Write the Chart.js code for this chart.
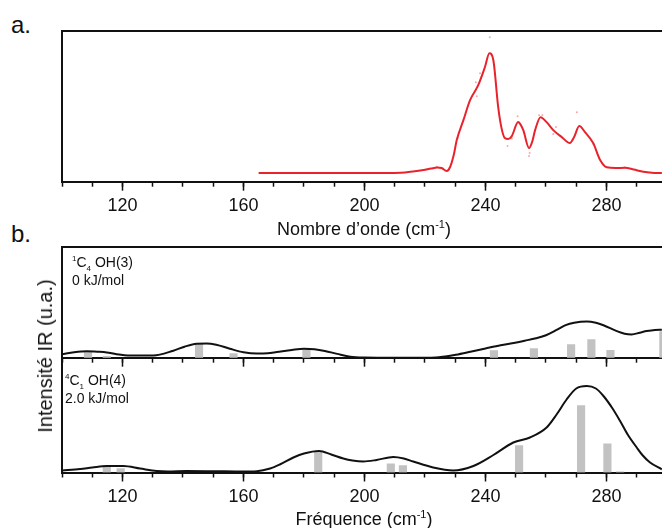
<!DOCTYPE html>
<html>
<head>
<meta charset="utf-8">
<script src="https://cdn.jsdelivr.net/npm/chart.js@4.4.1/dist/chart.umd.min.js"></script>
<style>
  body { margin: 0; background: #fff; overflow: hidden; }
  #wrap { position: relative; width: 662px; height: 528px; font-family: "Liberation Sans", Arial, sans-serif; color: #111; }
  canvas { position: absolute; left: 0; }
  .lbl { position: absolute; white-space: nowrap; line-height: 1; }
  .note { position: absolute; white-space: nowrap; font-size: 14px; line-height: 18px; }
  .note sup, .note sub { font-size: 8px; line-height: 0; }
</style>
</head>
<body>
<div id="wrap">
  <div class="lbl" style="left:11px;top:13px;font-size:24px">a.</div>
  <div class="lbl" style="left:11px;top:222px;font-size:24px">b.</div>

  <canvas id="chartA" width="662" height="250" style="top:0"></canvas>
  <canvas id="chartC" width="662" height="190" style="top:350px"></canvas>
  <canvas id="chartB" width="662" height="130" style="top:238px"></canvas>

  <div class="lbl" style="left:364px;top:219px;font-size:18px;transform:translateX(-50%)">Nombre d’onde (cm<sup style="font-size:11px">-1</sup>)</div>
  <div class="lbl" style="left:364px;top:509px;font-size:18px;transform:translateX(-50%)">Fréquence (cm<sup style="font-size:11px">-1</sup>)</div>
  <div class="lbl" style="left:45px;top:356px;font-size:20px;transform:translate(-50%,-50%) rotate(-90deg)">Intensité IR (u.a.)</div>

  <div class="note" style="left:72px;top:253px"><sup>1</sup>C<sub>4</sub> OH(3)<br>0 kJ/mol</div>
  <div class="note" style="left:65px;top:371px"><sup>4</sup>C<sub>1</sub> OH(4)<br>2.0 kJ/mol</div>
</div>

<script>
// x axis (cm-1)
const xMin = 100;
const xMax = 298.35;
const minorTicks = [100, 110, 120, 130, 140, 150, 160, 170, 180, 190, 200, 210, 220, 230, 240, 250, 260, 270, 280, 290];
const majorTicks = [120, 160, 200, 240, 280];

// a. experimental spectrum
const expX = [165, 180, 200, 212, 216, 219.5, 222, 224, 225.5, 227.2, 228.3, 229.5, 230.5, 232.7, 234.9, 237.6, 239.8, 241.3, 242.6, 244.2, 245.3, 246.4, 247.5, 248.7, 250.8, 251.5, 252.5, 254.4, 255.5, 256.4, 258.2, 260.2, 262.4, 265.2, 267.9, 269.3, 271, 272.9, 275.6, 277.9, 280.1, 283, 286.1, 289, 292.2, 295, 298.3];
const expY = [0, 0, 0, 0.3, 1.5, 3, 4.5, 5.5, 5, 2, 6, 18, 33, 53, 73, 88, 106, 120, 113, 66, 45, 35, 34, 37, 51, 49, 43, 25, 32, 43, 56, 51, 43, 36, 30, 36, 47, 41, 30, 13, 5.7, 5, 5.3, 3.5, 1.3, 0.3, 0];
const rawX = [220.5, 223.9, 230.8, 236.8, 237.1, 238.2, 241.4, 247.3, 248.7, 250.6, 254.4, 254.6, 257.7, 258.8, 262.4, 263.3, 270.2, 275.6, 286];
const rawY = [3.7, 6.3, 35, 91, 77, 100, 136, 27, 34.7, 57, 17, 20, 58, 58, 39, 46, 61, 29, 5.7];

// b. upper: 1C4 OH(3)
const upX = [100, 104, 108.2, 112, 114.8, 118, 122.5, 130.2, 136.8, 140.5, 144.5, 147.8, 151, 155.5, 160, 164.4, 168, 171, 176, 180, 183.5, 186.9, 191, 195.3, 200, 210, 222, 226, 230.2, 235, 240, 245, 249.8, 253, 256.7, 260, 263.7, 266.5, 269.3, 273.5, 276.5, 279, 283.4, 286, 288.3, 291, 293.3, 296, 298.3];
const upY = [3.5, 5.5, 6.5, 6, 5.3, 3.5, 2.2, 2.2, 7, 11, 14, 14.3, 13, 9, 5.5, 4.2, 4.5, 5.7, 7.8, 9, 8.5, 6.8, 3.8, 1, 0.2, 0, 0, 1, 3, 6, 9.3, 12.5, 15, 17, 19.5, 22.5, 28, 32.5, 35, 36.3, 35, 32.5, 26.6, 24, 23.3, 25, 26.6, 27.8, 28];
const upBarX = [108.6, 114.8, 145.3, 156.7, 180.8, 242.8, 256, 268.3, 275, 281.3, 298.8];
const upBarY = [5.7, 1.3, 13.3, 4, 9, 7, 9, 13, 18, 7.3, 26];

// b. lower: 4C1 OH(4)
const loX = [100, 106, 110, 114.8, 120.3, 125.8, 131.3, 135, 141.2, 150, 160, 164.4, 168.8, 172, 176.5, 180, 185, 189, 193, 196, 199.6, 204, 209.5, 213, 216.1, 222.7, 229.3, 236, 242.6, 249.2, 254.7, 260.2, 263.5, 266.8, 270, 273.5, 276.5, 279, 282, 284.5, 287, 290, 292, 294.4, 298.3];
const loY = [2, 3.5, 5, 6.5, 6.5, 4, 1.5, 1, 1.5, 1.3, 1, 1.3, 4, 8, 15, 19, 21.5, 18, 14, 12, 11, 12.5, 15.5, 14, 11, 5, 2, 6.5, 17.5, 30, 35, 45, 58, 73, 84, 86.5, 84, 76.5, 64, 51.5, 38, 25, 17, 10, 3.2];
const loBarX = [114.8, 119.4, 184.7, 208.7, 212.7, 251.1, 271.6, 280.3, 284.5];
const loBarY = [7, 4, 20, 8.7, 7, 27, 67, 28.7, 0.6];

const ink = "#111";
const pts = (xs, ys) => xs.map((x, i) => ({ x: x, y: ys[i] }));

// keep the plot box exactly where the layout padding puts it
const noPad = (s) => { s.paddingLeft = 0; s.paddingRight = 0; s.paddingTop = 0; s.paddingBottom = 0; };

function makeScales(yMin, yMax, axisH, showLabels, topBorder) {
  const scales = {
    x: {
      type: "linear", position: "bottom", min: xMin, max: xMax, offset: false, weight: 0,
      afterBuildTicks: (s) => { s.ticks = minorTicks.map((v) => ({ value: v })); },
      afterFit: (s) => { s.height = 0; noPad(s); },
      ticks: { display: false },
      grid: { display: true, drawOnChartArea: false, drawTicks: true, tickLength: 5, tickWidth: 1.5, tickColor: ink, offset: false },
      border: { display: true, width: 2, color: ink }
    },
    xMajor: {
      type: "linear", position: "bottom", min: xMin, max: xMax, offset: false, weight: 1,
      afterBuildTicks: (s) => { s.ticks = majorTicks.map((v) => ({ value: v })); },
      afterFit: (s) => { s.height = axisH; noPad(s); },
      ticks: { display: showLabels, padding: 5, color: ink, maxRotation: 0, autoSkip: false,
               font: { family: '"Liberation Sans", Arial, sans-serif', size: 18 } },
      grid: { display: true, drawOnChartArea: false, drawTicks: true, tickLength: 9, tickWidth: 1.5, tickColor: ink, offset: false },
      border: { display: false }
    },
    y: {
      min: yMin, max: yMax,
      afterFit: (s) => { s.width = 0; noPad(s); },
      ticks: { display: false },
      grid: { display: false },
      border: { display: true, width: 2, color: ink }
    }
  };
  if (topBorder) {
    scales.xTop = {
      type: "linear", position: "top", min: xMin, max: xMax,
      afterFit: (s) => { s.height = 0; noPad(s); },
      ticks: { display: false },
      grid: { display: false },
      border: { display: true, width: 2, color: ink }
    };
  }
  return scales;
}

const baseOpts = (pad, scales) => ({
  responsive: false,
  animation: false,
  devicePixelRatio: 1,
  layout: { padding: pad, autoPadding: false },
  plugins: { legend: { display: false }, tooltip: { enabled: false } },
  elements: { point: { radius: 0, hoverRadius: 0 } },
  scales: scales
});

const curve = (xs, ys, color) => ({
  data: pts(xs, ys), xAxisID: "x", yAxisID: "y", borderColor: color, borderWidth: 2,
  cubicInterpolationMode: "monotone", pointRadius: 0, order: 0
});

// a.
new Chart(document.getElementById("chartA"), {
  type: "line",
  data: {
    datasets: [
      curve(expX, expY, "#e8232b"),
      { data: pts(rawX, rawY), xAxisID: "x", yAxisID: "y", showLine: false, pointRadius: 1, pointBorderWidth: 0, pointBackgroundColor: "rgba(240,110,110,0.6)", order: 1 }
    ]
  },
  options: baseOpts({ left: 62, right: 0, top: 31, bottom: 0 }, makeScales(-8.7, 142.3, 250 - 181.7, true, true))
});

// b. upper
new Chart(document.getElementById("chartB"), {
  type: "line",
  data: {
    datasets: [
      curve(upX, upY, ink),
      { type: "bar", data: pts(upBarX, upBarY), xAxisID: "x", yAxisID: "y", backgroundColor: "#c2c2c2", barThickness: 7.5, order: 1 }
    ]
  },
  options: baseOpts({ left: 62, right: 0, top: 9, bottom: 130 - 119.7 }, makeScales(0, 110.7, 0, false, true))
});

// b. lower
new Chart(document.getElementById("chartC"), {
  type: "line",
  data: {
    datasets: [
      curve(loX, loY, ink),
      { type: "bar", data: pts(loBarX, loBarY), xAxisID: "x", yAxisID: "y", backgroundColor: "#c2c2c2", barThickness: 7.5, order: 1 }
    ]
  },
  options: baseOpts({ left: 62, right: 0, top: 8.5, bottom: 0 }, makeScales(0, 114, 190 - 122.5, true, false))
});
</script>
</body>
</html>
